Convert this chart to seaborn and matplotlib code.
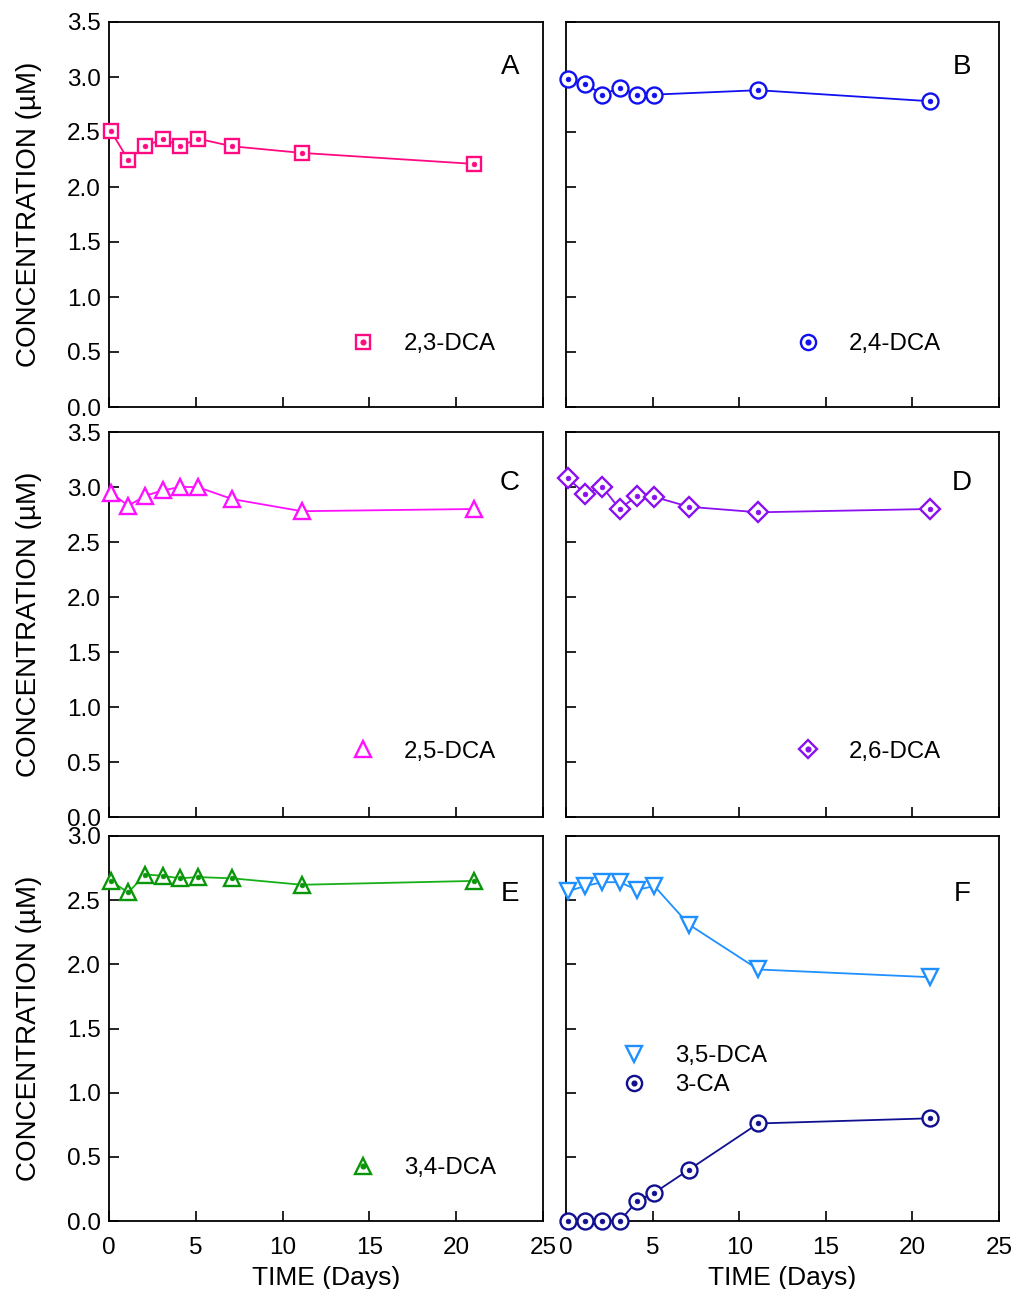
import matplotlib
matplotlib.use("Agg")
import matplotlib.pyplot as plt
import seaborn as sns
import numpy as np
import pandas as pd
from matplotlib.lines import Line2D
from matplotlib.legend_handler import HandlerTuple

sns.set_theme(style="ticks")
plt.rcParams['font.family'] = ['Liberation Sans', 'DejaVu Sans']
plt.rcParams['text.color'] = 'black'
plt.rcParams['axes.labelcolor'] = 'black'
plt.rcParams['xtick.color'] = 'black'
plt.rcParams['ytick.color'] = 'black'

# ---- data ----
t9 = [0.1, 1.1, 2.1, 3.1, 4.1, 5.1, 7.1, 11.1, 21.0]
t8 = [0.1, 1.1, 2.1, 3.1, 4.1, 5.1, 11.1, 21.0]
dca23 = [2.51, 2.25, 2.37, 2.44, 2.37, 2.44, 2.37, 2.31, 2.21]
dca24 = [2.98, 2.94, 2.84, 2.90, 2.84, 2.84, 2.88, 2.78]
dca25 = [2.95, 2.83, 2.92, 2.97, 3.00, 3.00, 2.89, 2.78, 2.80]
dca26 = [3.08, 2.94, 3.00, 2.80, 2.92, 2.91, 2.82, 2.77, 2.80]
dca34 = [2.65, 2.56, 2.70, 2.69, 2.67, 2.68, 2.67, 2.62, 2.65]
dca35 = [2.57, 2.61, 2.64, 2.64, 2.58, 2.61, 2.31, 1.96, 1.90]
ca3 = [0.0, 0.0, 0.0, 0.0, 0.155, 0.22, 0.40, 0.76, 0.80]
xticks = [0, 5, 10, 15, 20, 25]

W, H = 1014, 1289
fig = plt.figure(figsize=(W / 100, H / 100), dpi=100)

cols = [(109, 543), (566, 999)]
rows = [(22, 407), (432, 817), (836, 1221)]
letter_y = [0.883, 0.868, 0.85]
letter_x = [0.924, 0.915]

def make_ax(r, c):
    x0, x1 = cols[c]
    y0, y1 = rows[r]
    return fig.add_axes([x0 / W, 1 - y1 / H, (x1 - x0) / W, (y1 - y0) / H])

panels = [
    (0, 0, "A", 3.5, [(t9, dca23, "2,3-DCA", "#FF0A80", "s", 10.5, True)], (0.508, 0.163)),
    (0, 1, "B", 3.5, [(t8, dca24, "2,4-DCA", "#1010F0", "o", 11.5, True)], (0.481, 0.163)),
    (1, 0, "C", 3.5, [(t9, dca25, "2,5-DCA", "#FF10FF", "^", 12, False)], (0.508, 0.17)),
    (1, 1, "D", 3.5, [(t9, dca26, "2,6-DCA", "#8A10F0", "D", 10, True)], (0.481, 0.17)),
    (2, 0, "E", 3.0, [(t9, dca34, "3,4-DCA", "#0A960A", "^", 12, True)], (0.508, 0.137)),
    (2, 1, "F", 3.0, [(t9, dca35, "3,5-DCA", "#1E90FF", "v", 12, False),
                      (t9, ca3, "3-CA", "#101090", "o", 11.5, True)], (0.0795, 0.39)),
]

line_colors = {"3,4-DCA": "#18B018"}

for r, c, letter, ymax, series, legpos in panels:
    ax = make_ax(r, c)
    handles = []
    for t, y, label, color, mk, ms, dot in series:
        df = pd.DataFrame({"t": t, "y": y})
        lc = line_colors.get(label, color)
        sns.lineplot(data=df, x="t", y="y", ax=ax, color=lc, linewidth=1.3,
                     marker=None, zorder=2)
        sns.lineplot(data=df, x="t", y="y", ax=ax, color=color, linestyle="none",
                     marker=mk, markersize=ms, markerfacecolor="white",
                     markeredgecolor=color, markeredgewidth=1.7, zorder=3,
                     clip_on=False)
        h_open = Line2D([], [], linestyle="none", marker=mk, markersize=ms * 0.95,
                        markerfacecolor="white", markeredgecolor=color,
                        markeredgewidth=1.7)
        if dot:
            sns.lineplot(data=df, x="t", y="y", ax=ax, color=color, linestyle="none",
                         marker="o", markersize=3.4, markerfacecolor=color,
                         markeredgecolor=color, markeredgewidth=0.5, zorder=4,
                         clip_on=False)
            h_dot = Line2D([], [], linestyle="none", marker="o", markersize=3.4,
                           markerfacecolor=color, markeredgecolor=color)
            handles.append(((h_open, h_dot), label))
        else:
            handles.append(((h_open,), label))
    ax.set_xlim(0, 25)
    ax.set_ylim(0, ymax)
    yt = np.arange(0, ymax + 0.01, 0.5)
    ax.set_xticks(xticks)
    ax.set_yticks(yt)
    ax.tick_params(direction="in", length=7, width=1.2, labelsize=17.5,
                   top=False, right=False, colors="black")
    ax.tick_params(axis="y", pad=6)
    ax.tick_params(axis="x", pad=11.5)
    for s in ax.spines.values():
        s.set_linewidth(1.3)
        s.set_color("black")
    if c == 0:
        ax.set_yticklabels([f"{v:.1f}" for v in yt])
        ax.set_ylabel("CONCENTRATION (µM)", fontsize=20, labelpad=18)
    else:
        ax.set_yticklabels([])
        ax.set_ylabel("")
    if r == 2:
        ax.set_xticklabels([str(v) for v in xticks])
        ax.set_xlabel("TIME (Days)", fontsize=19, labelpad=5)
    else:
        ax.set_xticklabels([])
        ax.set_xlabel("")
    ax.text(letter_x[c], letter_y[r], letter, transform=ax.transAxes, fontsize=20,
            ha="center", va="center")
    ax.legend([h for h, _ in handles], [l for _, l in handles],
              handler_map={tuple: HandlerTuple(ndivide=1, pad=0)},
              loc="center left", bbox_to_anchor=legpos,
              frameon=False, fontsize=17.3, handletextpad=1.2,
              labelspacing=0.3, handlelength=1.0, borderpad=0.4)

fig.savefig("out.png", dpi=100)
